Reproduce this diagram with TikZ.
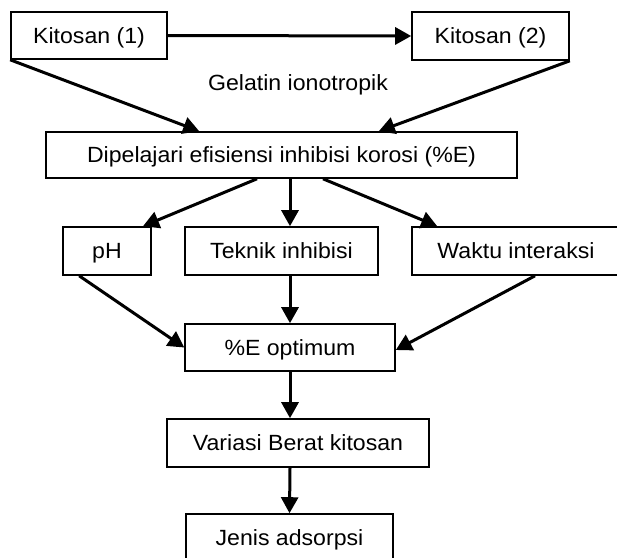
\documentclass[tikz,border=0pt]{standalone}
\usepackage{fontspec}
\setmainfont{Liberation Sans}[FakeStretch=1.05]
\usetikzlibrary{arrows.meta,calc}
\begin{document}
\begin{tikzpicture}[x=1pt,y=-1pt,
  box/.style={draw,line width=1.6pt,inner sep=0pt,align=center,text height=15.75pt,text depth=0pt,font=\fontsize{22}{26}\selectfont},
  lbl/.style={inner sep=0pt,text height=15.75pt,text depth=0pt,font=\fontsize{22}{26}\selectfont},
  arr/.style={line width=3pt,-{Triangle[length=16pt,width=17pt]}}]
\useasboundingbox (0,0) rectangle (617,557);
\clip (0,0) rectangle (617,557);
\fill[white] (0,0) rectangle (617,557);
\node[box,minimum width=156pt,minimum height=47pt] (K1) at (89,35.5) {Kitosan (1)};
\node[box,minimum width=157pt,minimum height=48pt] (K2) at (490.5,36) {Kitosan (2)};
\node[lbl] (G) at (298,83) {Gelatin ionotropik};
\node[box,minimum width=471pt,minimum height=46pt] (D) at (281.5,155) {Dipelajari efisiensi inhibisi korosi (\%E)};
\node[box,minimum width=88pt,minimum height=48pt] (P) at (107,251) {pH};
\node[box,minimum width=193pt,minimum height=48pt] (T) at (281.5,251) {Teknik inhibisi};
\node[box,minimum width=213pt,minimum height=48pt] (W) at (518.5,251) {Waktu interaksi\hspace*{5pt}};
\node[box,minimum width=210pt,minimum height=47pt] (E) at (290,347.5) {\%E optimum};
\node[box,minimum width=262pt,minimum height=48pt] (V) at (298,443) {Variasi Berat kitosan};
\node[box,minimum width=207pt,minimum height=48pt] (J) at (289.5,538) {Jenis adsorpsi};
\draw[arr] (K1.east) -- (K2.west);
\draw[arr] (K1.south west) -- ([xshift=154pt]D.north west);
\draw[arr] (K2.south east) -- ([xshift=-139pt]D.north east);
\draw[arr] ([xshift=-24.5pt]D.south) -- ([xshift=36pt]P.north);
\draw[arr] ([xshift=8.5pt]D.south) -- ([xshift=8.5pt]T.north);
\draw[arr] ([xshift=41.5pt]D.south) -- ([xshift=26pt]W.north west);
\draw[arr] ([xshift=17pt]P.south west) -- (E.west);
\draw[arr] ([xshift=8.5pt]T.south) -- (E.north);
\draw[arr] ([xshift=16.5pt]W.south) -- ([yshift=-2.5pt]E.east);
\draw[arr] (E.south) -- ([xshift=-8pt]V.north);
\draw[arr] ([xshift=-8pt]V.south) -- (J.north);
\end{tikzpicture}
\end{document}
